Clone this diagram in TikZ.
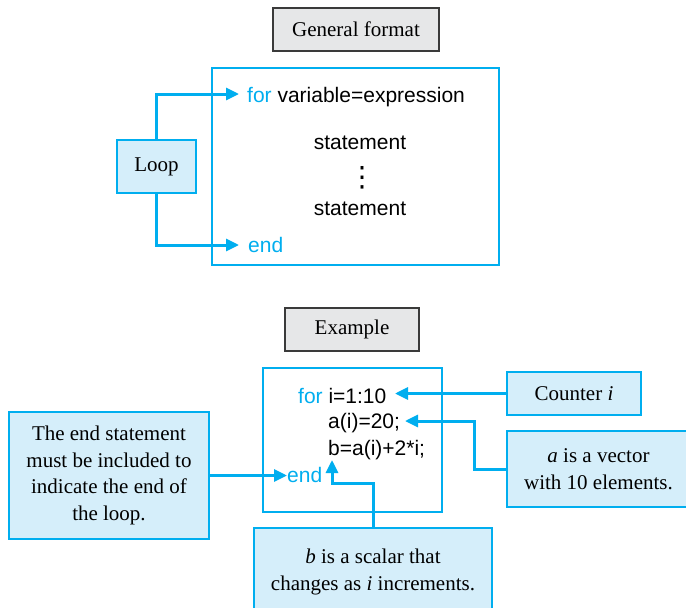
\documentclass[tikz,border=0pt]{standalone}
\usepackage{fontspec}
\setmainfont{Liberation Serif}
\newfontfamily\codefont{Liberation Sans}
\newfontfamily\symfont{DejaVu Sans}
\usetikzlibrary{arrows.meta}
\definecolor{mcyan}{HTML}{00AEEF}
\definecolor{mlight}{HTML}{D5EEFA}
\definecolor{mgray}{HTML}{E6E7E8}
\definecolor{mdark}{HTML}{3A3A3A}
\begin{document}
\begin{tikzpicture}[x=1pt,y=-1pt,
  every node/.style={font=\fontsize{21}{26.5}\selectfont, inner sep=0pt},
  graybox/.style={draw=mdark, line width=1.2pt, fill=mgray, minimum width=#1},
  codebox/.style={draw=mcyan, line width=1.2pt, fill=white},
  callout/.style={draw=mcyan, line width=2pt, fill=mlight, align=center},
  codetext/.style={font=\codefont\fontsize{21}{26.5}\selectfont, anchor=base west},
  arr/.style={draw=mcyan, line width=3pt, -{Triangle[length=13pt,width=12pt]}}
]
\useasboundingbox (0,0) rectangle (686,608);
% General format
\node[graybox=166pt, minimum height=43pt] (gen) at (356,29.5) {General format};
\node[codebox, minimum width=287pt, minimum height=197pt] (main) at (355.5,166.5) {};
\node[codetext] (forline) at (247,102) {\textcolor{mcyan}{for} variable=expression};
\node[codetext, anchor=base] (st1) at (360,149) {statement};
\node[font=\symfont\fontsize{28}{28}\selectfont] (dots) at (362,177.5) {⋮};
\node[codetext, anchor=base] (st2) at (360,215) {statement};
\node[codetext] (endline) at (248,252) {\textcolor{mcyan}{end}};
\node[callout, line width=1.2pt, minimum width=79pt, minimum height=53pt] (loop) at (156.5,166.5) {Loop};
\coordinate (fortip) at (239,94);
\coordinate (endtip) at (239,245);
\draw[arr] (loop.north) |- (fortip);
\draw[arr] (loop.south) |- (endtip);
% Example
\node[graybox=134pt, minimum height=43pt] (ex) at (352,329.5) {Example};
\node[codebox, minimum width=179pt, minimum height=144pt] (code) at (352.5,440) {};
\node[codetext] (c1) at (298,403) {\textcolor{mcyan}{for} i=1:10};
\node[codetext] (c2) at (328,428) {a(i)=20;};
\node[codetext] (c3) at (328,455) {b=a(i)+2*i;};
\node[codetext] (c4) at (287,482) {\textcolor{mcyan}{end}};
\node[callout, minimum width=134pt, minimum height=43pt] (counter) at (574,393.5) {Counter \textit{i}};
\node[callout, minimum width=183pt, minimum height=76pt] (avec) at (598.5,469) {\textit{a} is a vector\\with 10 elements.};
\node[callout, minimum width=200pt, minimum height=127pt] (endbox) at (109,475.5) {The end statement\\must be included to\\indicate the end of\\the loop.};
\node[callout, minimum width=238pt, minimum height=88pt] (bbox) at (373,572) {\textit{b} is a scalar that\\changes as \textit{i} increments.};
\coordinate (ctip) at (395,393.5);
\coordinate (atip) at (405,421);
\coordinate (abend) at (474,469);
\coordinate (etip) at (287,475.5);
\coordinate (bbend) at (373,483);
\coordinate (btip) at (332,460);
\draw[arr] (counter.west) -- (ctip);
\draw[arr] (avec.west) -- (abend) |- (atip);
\draw[arr] (endbox.east) -- (etip);
\draw[arr] (bbox.north) -- (bbend) -| (btip);
\end{tikzpicture}
\end{document}
